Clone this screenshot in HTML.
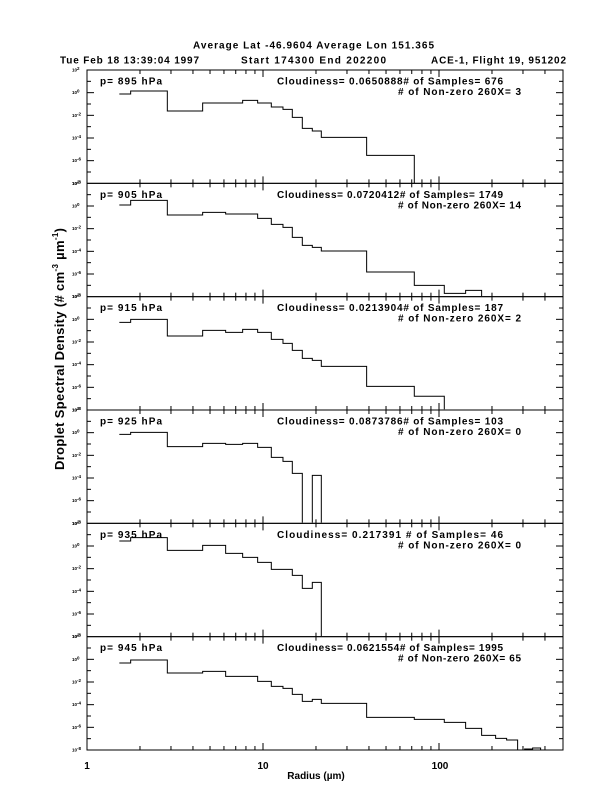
<!DOCTYPE html>
<html><head><meta charset="utf-8"><style>
html,body{margin:0;padding:0;background:#fff;}
svg{display:block;font-family:"Liberation Sans",sans-serif;font-weight:bold;}
</style></head><body>
<svg id="s" width="612" height="792" viewBox="0 0 612 792" xmlns="http://www.w3.org/2000/svg">
<text x="193" y="48.5" font-size="10" textLength="241">Average Lat -46.9604  Average Lon  151.365</text>
<text x="60" y="63.5" font-size="10" textLength="139">Tue Feb 18 13:39:04 1997</text>
<text x="241" y="63.5" font-size="10" textLength="145">Start 174300  End  202200</text>
<text x="431" y="63.5" font-size="10" textLength="135">ACE-1, Flight 19, 951202</text>
<g id="ax" stroke="#000" stroke-width="1" fill="none"></g>
<g fill="none" stroke="#000" stroke-width="3">
<path transform="translate(60,40) scale(0.3333)" d="M178 162 H212 V153 H322 V213 H428 V189 H548 V181 H593 V189 H634 V201 H669 V208 H697 V232 H727 V265 H757 V273 H784 V292 H920 V346 H1063 V430"/>
<path transform="translate(60,180) scale(0.3333)" d="M178 75 H212 V61 H322 V105 H428 V97 H497 V102 H593 V115 H634 V133 H669 V142 H697 V172 H727 V196 H757 V202 H784 V213 H920 V276 H1063 V316 H1153 V340 H1217 V331 H1265 V348"/>
<path transform="translate(60,180) scale(0.3333)" d="M178 427 H212 V418 H322 V468 H428 V451 H497 V457 H548 V448 H593 V457 H634 V478 H669 V490 H697 V511 H727 V535 H757 V541 H784 V559 H920 V619 H1063 V649 H1153 V688"/>
<path transform="translate(60,405) scale(0.3333)" d="M178 88 H212 V82 H322 V125 H428 V115 H497 V118 H548 V115 H593 V127 H634 V157 H669 V169 H697 V205 H727 V353 M757 353 V211 H784 V353"/>
<path transform="translate(60,405) scale(0.3333)" d="M178 408 H212 V398 H322 V436 H428 V421 H497 V445 H548 V457 H593 V472 H634 V493 H697 V511 H727 V550 H757 V532 H784 V693"/>
<path transform="translate(60,620) scale(0.3333)" d="M178 129 H212 V120 H322 V159 H428 V154 H497 V169 H593 V184 H634 V199 H669 V205 H697 V223 H727 V244 H757 V238 H784 V250 H920 V292 H1063 V298 H1153 V307 H1217 V325 H1265 V346 H1307 V355 H1340 V360 H1373 V390 M1394 390 V387 H1418 V384 H1442 V390"/>
</g>
<g id="tx" font-size="10"></g>
<text x="87" y="769" font-size="10" text-anchor="middle">1</text>
<text x="263" y="769" font-size="10" text-anchor="middle">10</text>
<text x="440" y="769" font-size="10" text-anchor="middle">100</text>
<text x="316" y="779" font-size="10" text-anchor="middle">Radius (µm)</text>
<text transform="translate(64,349) rotate(-90)" font-size="13" text-anchor="middle" textLength="242">Droplet Spectral Density (# cm<tspan dy="-6" font-size="8">-3</tspan><tspan dy="6">  µm</tspan><tspan dy="-6" font-size="8">-1</tspan><tspan dy="6">)</tspan></text>
</svg>
<script>
(function(){
var NS="http://www.w3.org/2000/svg";
var ax=document.getElementById('ax'),tx=document.getElementById('tx');
var L=87,R=563,T0=70,H=113.333,D=176;
function ln(x1,y1,x2,y2){var e=document.createElementNS(NS,'line');e.setAttribute('x1',x1);e.setAttribute('y1',y1);e.setAttribute('x2',x2);e.setAttribute('y2',y2);ax.appendChild(e);}
function t(x,y,s,str,len){var e=document.createElementNS(NS,'text');e.setAttribute('x',x);e.setAttribute('y',y);e.setAttribute('font-size',s);if(len)e.setAttribute('textLength',len);e.textContent=str;tx.appendChild(e);return e;}
var P=[["p= 895 hPa","Cloudiness= 0.0650888# of Samples= 676","# of Non-zero 260X= 3"],
["p= 905 hPa","Cloudiness= 0.0720412# of Samples= 1749","# of Non-zero 260X= 14"],
["p= 915 hPa","Cloudiness= 0.0213904# of Samples= 187","# of Non-zero 260X= 2"],
["p= 925 hPa","Cloudiness= 0.0873786# of Samples= 103","# of Non-zero 260X= 0"],
["p= 935 hPa","Cloudiness= 0.217391 # of Samples= 46","# of Non-zero 260X= 0"],
["p= 945 hPa","Cloudiness= 0.0621554# of Samples= 1995","# of Non-zero 260X= 65"]];
for(var i=0;i<6;i++){
 var pt=T0+i*H,pb=pt+H;
 var r=document.createElementNS(NS,'rect');r.setAttribute('x',L);r.setAttribute('y',pt);r.setAttribute('width',R-L);r.setAttribute('height',H);ax.appendChild(r);
 for(var d=0;d<3;d++)for(var m=1;m<10;m++){var x=L+D*(d+Math.log10(m));if(x>R-1||x<L+1)continue;var len=(m==1)?7:4;ln(x,pt,x,pt+len);ln(x,pb,x,pb-len);}
 for(var k=1;k<10;k++){var y=pt+k*H/10;var len=(k%2==0)?7:4;ln(L,y,L+len,y);ln(R,y,R-len,y);}
 for(var k=0;k<=10;k+=2){var y=pt+k*H/10;var ex=2-k;var e=t(72,y+1.5,4.5,"10");var ts=document.createElementNS(NS,'tspan');ts.setAttribute('dy','-1.5');ts.textContent=(ex==0?"0":(ex>0?"2":"-"+(-ex)));e.appendChild(ts);}
 t(100,pt+14.5,10,P[i][0],62);
 t(277,pt+14.5,10,P[i][1],226);
 t(398,pt+25,10,P[i][2],123);
}
})();
</script>
</body></html>
